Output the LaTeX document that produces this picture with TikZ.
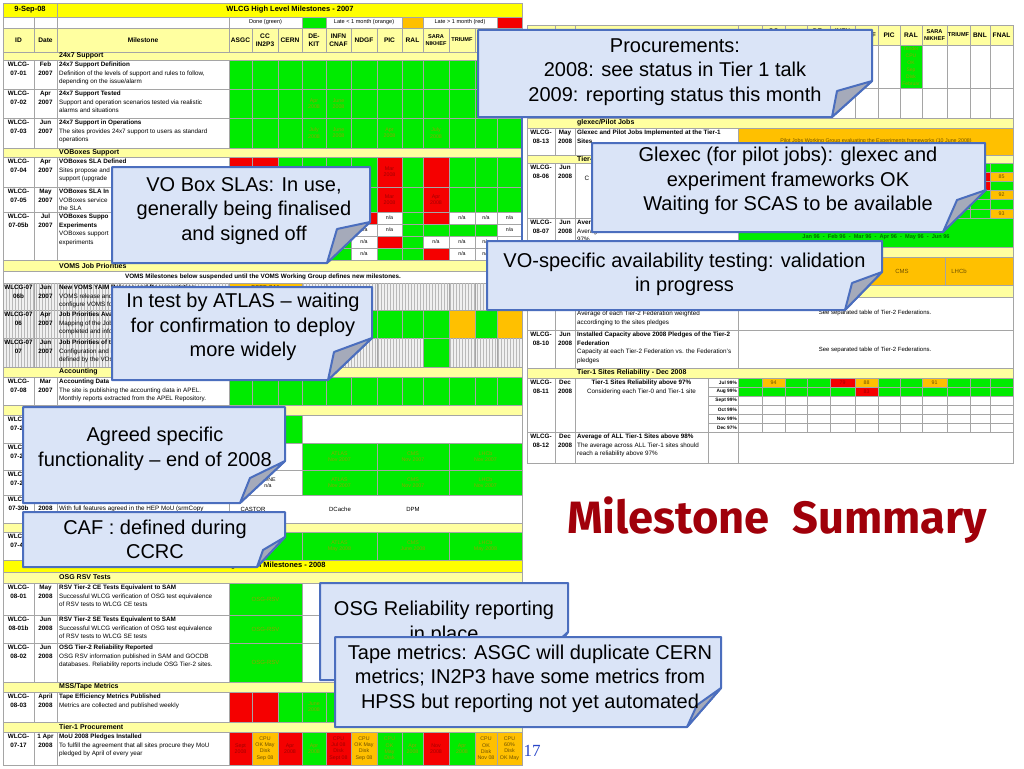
\documentclass[tikz,border=0pt]{standalone}
\usepackage{fontspec}
\usepackage{graphicx}
\setmainfont{Liberation Sans}
\newfontfamily\msfont{Fira Sans}
\newfontfamily\pgnumfont{Liberation Serif}
\usetikzlibrary{patterns}
\definecolor{cg}{RGB}{0,235,0}
\definecolor{cr}{RGB}{245,0,0}
\definecolor{co}{RGB}{255,192,0}
\definecolor{cy}{RGB}{255,255,0}
\definecolor{cpy}{RGB}{255,255,160}
\definecolor{gridc}{RGB}{165,165,165}
\definecolor{cbfill}{RGB}{218,228,247}
\definecolor{cbline}{RGB}{75,110,190}
\definecolor{cptr}{RGB}{165,170,186}
\definecolor{msred}{RGB}{160,0,10}
\definecolor{gtxt}{RGB}{140,165,0}
\definecolor{rtxt}{RGB}{160,0,0}
\definecolor{otxt}{RGB}{110,80,0}
\definecolor{dkgreen}{RGB}{0,110,0}
\definecolor{pgblue}{RGB}{40,70,200}
\newcounter{nn}
\def\LXa{{229,252,278,302,326,351,377,402,423,449,475,497,522}}
\def\RXa{{738,762,785,807,830,855,878,900,922,947,970,990,1013}}
\newcommand\tnode[4][]{\stepcounter{nn}\node[#1] (n\arabic{nn}) at (#2,#3) {#4};}
\newcommand\bx[5][cW]{\path[cellbox,#1] (#2,#3) rectangle (#4,#5);}
\newcommand\lrow[3]{\foreach \clr [count=\i from 0] in {#3}{\pgfmathsetmacro\xa{\LXa[\i]}\pgfmathtruncatemacro\jj{\i+1}\pgfmathsetmacro\xb{\LXa[\jj]}\edef\doit{\noexpand\path[cellbox,\clr] (\xa,#1) rectangle (\xb,#2);}\doit}}
\newcommand\rrow[3]{\foreach \clr [count=\i from 0] in {#3}{\pgfmathsetmacro\xa{\RXa[\i]}\pgfmathtruncatemacro\jj{\i+1}\pgfmathsetmacro\xb{\RXa[\jj]}\edef\doit{\noexpand\path[cellbox,\clr] (\xa,#1) rectangle (\xb,#2);}\doit}}
\newcommand\lcell[4][]{\pgfmathsetmacro\xa{\LXa[#2]}\pgfmathtruncatemacro\jj{#2+1}\pgfmathsetmacro\xb{\LXa[\jj]}\pgfmathsetmacro\xm{(\xa+\xb)/2}\tnode[celltx,#1]{\xm}{#3}{#4}}
\newcommand\rcell[4][]{\pgfmathsetmacro\xa{\RXa[#2]}\pgfmathtruncatemacro\jj{#2+1}\pgfmathsetmacro\xb{\RXa[\jj]}\pgfmathsetmacro\xm{(\xa+\xb)/2}\tnode[celltx,#1]{\xm}{#3}{#4}}
\newcommand\lsec[3]{\bx[cY]{3}{#1}{522}{#2}\tnode[sectx]{59}{{(#1+#2)/2}}{#3}}
\newcommand\rsec[3]{\bx[cY]{527}{#1}{1013}{#2}\tnode[sectx]{577}{{(#1+#2)/2}}{#3}}
\newcommand\lbase[6]{\bx[#3]{3}{#1}{34}{#2}\bx[#3]{34}{#1}{57}{#2}\bx[#3]{57}{#1}{229}{#2}\tnode[idtx]{18.5}{{#1+2}}{#4}\tnode[idtx]{45.5}{{#1+2}}{#5}\tnode[mstx]{59}{{#1+2}}{#6}}
\newcommand\rbase[6]{\bx[#3]{527}{#1}{555}{#2}\bx[#3]{555}{#1}{575}{#2}\bx[#3]{575}{#1}{738}{#2}\tnode[idtx]{541}{{#1+2}}{#4}\tnode[idtx]{565}{{#1+2}}{#5}\tnode[mstx]{577}{{#1+2}}{#6}}
\newcommand\callout[9]{%
 \path[fill=cbfill, draw=cbline, line width=2pt, line join=round] (#1,#2) -- (#3,#2) -- (#3,#9) -- (#5,#4) -- (#1,#4) -- cycle;
 \path[fill=cptr, draw=cbline, line width=2pt, line join=round] (#5,#4) -- (#6,#7) -- (#8,#9) -- cycle;}
\begin{document}
\begin{tikzpicture}[x=1pt,y=-1pt,
 cellbox/.style={draw=gridc, line width=0.5pt},
 cG/.style={fill=cg}, cR/.style={fill=cr}, cO/.style={fill=co}, cW/.style={fill=white},
 cY/.style={fill=cpy}, cYY/.style={fill=cy},
 cH/.style={fill=gray!12, postaction={pattern=vertical lines, pattern color=gray!55}},
 mstx/.style={anchor=north west, inner sep=0pt, align=left, font=\fontsize{6.3}{8.6}\selectfont},
 idtx/.style={anchor=north, inner sep=0pt, align=center, font=\bfseries\fontsize{6.3}{8.6}\selectfont},
 sectx/.style={anchor=west, inner sep=0pt, font=\bfseries\fontsize{7}{8}\selectfont},
 hdtx/.style={inner sep=0pt, align=center, font=\bfseries\fontsize{6.6}{7.6}\selectfont},
 celltx/.style={inner sep=0pt, align=center, font=\fontsize{5.3}{6.3}\selectfont},
 gtx/.style={text=gtxt}, rtx/.style={text=rtxt}, otx/.style={text=otxt},
 cbtx/.style={inner sep=0pt, align=center, font=\fontsize{20}{24.5}\selectfont}]
\useasboundingbox (0,0) rectangle (1024,768);
\fill[white] (0,0) rectangle (1024,768);
% ================= LEFT TABLE =================
\bx[cYY]{3}{3}{57}{17}\bx[cYY]{57}{3}{522}{17}
\tnode[hdtx,font=\bfseries\fontsize{7.5}{8}\selectfont]{30}{10}{9-Sep-08}
\tnode[hdtx,font=\bfseries\fontsize{7.5}{8}\selectfont]{290}{10}{WLCG High Level Milestones - 2007}
\bx{3}{17}{34}{28}\bx{34}{17}{57}{28}\bx{57}{17}{229}{28}
\bx{229}{17}{302}{28}\bx[cG]{302}{17}{326}{28}\bx{326}{17}{402}{28}\bx[cO]{402}{17}{423}{28}\bx{423}{17}{497}{28}\bx[cR]{497}{17}{522}{28}
\tnode[celltx,font=\fontsize{5.6}{6}\selectfont]{265.5}{22.5}{Done (green)}
\tnode[celltx,font=\fontsize{5.6}{6}\selectfont]{364}{22.5}{Late < 1 month (orange)}
\tnode[celltx,font=\fontsize{5.6}{6}\selectfont]{460}{22.5}{Late > 1 month (red)}
\bx[cY]{3}{28}{34}{52}\bx[cY]{34}{28}{57}{52}\bx[cY]{57}{28}{229}{52}
\lrow{28}{52}{cY,cY,cY,cY,cY,cY,cY,cY,cY,cY,cY,cY}
\tnode[hdtx]{18.5}{40}{ID}\tnode[hdtx]{45.5}{40}{Date}\tnode[hdtx]{143}{40}{Milestone}
\lcell[hdtx]{0}{40}{ASGC}\lcell[hdtx]{1}{40}{CC\\IN2P3}\lcell[hdtx]{2}{40}{CERN}\lcell[hdtx]{3}{40}{DE-\\KIT}
\lcell[hdtx]{4}{40}{INFN\\CNAF}\lcell[hdtx]{5}{40}{NDGF}\lcell[hdtx]{6}{40}{PIC}\lcell[hdtx]{7}{40}{RAL}
\lcell[hdtx,font=\bfseries\fontsize{5.6}{7}\selectfont]{8}{40}{SARA\\NIKHEF}\lcell[hdtx,font=\bfseries\fontsize{5.6}{7}\selectfont]{9}{40}{TRIUMF}
\lcell[hdtx]{10}{40}{BNL}\lcell[hdtx]{11}{40}{FNAL}
\lsec{52}{60}{24x7 Support}
\lbase{60}{89}{cW}{WLCG-\\07-01}{Feb\\2007}{\textbf{24x7 Support Definition}\\Definition of the levels of support and rules to follow,\\depending on the issue/alarm}
\lrow{60}{89}{cG,cG,cG,cG,cG,cG,cG,cG,cG,cG,cG,cG}
\lbase{89}{118}{cW}{WLCG-\\07-02}{Apr\\2007}{\textbf{24x7 Support Tested}\\Support and operation scenarios tested via realistic\\alarms and situations}
\lrow{89}{118}{cG,cG,cG,cG,cG,cG,cG,cG,cG,cG,cG,cG}
\lcell[gtx]{3}{103.5}{Apr\\2008}\lcell[gtx]{4}{103.5}{June\\2008}
\lbase{118}{148}{cW}{WLCG-\\07-03}{Jun\\2007}{\textbf{24x7 Support in Operations}\\The sites provides 24x7 support to users as standard\\operations}
\lrow{118}{148}{cG,cG,cG,cG,cG,cG,cG,cG,cG,cG,cG,cG}
\lcell[gtx]{3}{133}{July\\2008}\lcell[gtx]{4}{133}{June\\2008}\lcell[gtx]{6}{133}{Apr\\2008}\lcell[gtx]{8}{133}{July\\2008}
\lsec{148}{157}{VOBoxes Support}
\lbase{157}{187}{cW}{WLCG-\\07-04}{Apr\\2007}{\textbf{VOBoxes SLA Defined}\\Sites propose and\\support (upgrade}
\lrow{157}{187}{cR,cR,cG,cG,cG,cG,cR,cG,cR,cG,cG,cG}
\lcell[rtx]{6}{172}{Mar\\2008}
\lbase{187}{212}{cW}{WLCG-\\07-05}{May\\2007}{\textbf{VOBoxes SLA In}\\VOBoxes service\\the SLA}
\lrow{187}{212}{cG,cG,cG,cG,cG,cG,cR,cG,cR,cG,cG,cG}
\lcell[rtx]{6}{199.5}{Mar\\2008}\lcell[rtx]{8}{199.5}{Apr\\2008}
\lbase{212}{260}{cW}{WLCG-\\07-05b}{Jul\\2007}{\textbf{VOBoxes Suppo}\\\textbf{Experiments}\\VOBoxes support\\experiments}
\lrow{212}{224}{cG,cG,cG,cG,cG,cR,cW,cG,cR,cW,cW,cW}
\lrow{224}{236}{cG,cG,cG,cG,cG,cW,cW,cG,cG,cG,cG,cW}
\lrow{236}{248}{cG,cG,cG,cG,cG,cW,cR,cG,cW,cW,cW,cW}
\lrow{248}{260}{cG,cG,cG,cG,cG,cW,cG,cG,cR,cW,cW,cW}
\lcell{6}{218}{n/a}\lcell{9}{218}{n/a}\lcell{10}{218}{n/a}\lcell{11}{218}{n/a}
\lcell{5}{230}{n/a}\lcell{6}{230}{n/a}\lcell{11}{230}{n/a}
\lcell{5}{242}{n/a}\lcell{8}{242}{n/a}\lcell{9}{242}{n/a}\lcell{10}{242}{n/a}
\lcell{5}{254}{n/a}\lcell{9}{254}{n/a}\lcell{10}{254}{n/a}
\lsec{260}{271}{VOMS Job Priorities}
\bx{3}{271}{522}{283}
\tnode[hdtx,font=\bfseries\fontsize{6.3}{7}\selectfont]{263}{277}{VOMS Milestones below suspended until the VOMS Working Group defines new milestones.}
\lbase{283}{310}{cH}{WLCG-07\\06b}{Jun\\2007}{\textbf{New VOMS YAIM Release and Documentation}\\VOMS release and\\configure VOMS fo}
\lrow{283}{310}{cH,cH,cH,cH,cH,cH,cH,cH,cH,cH,cH,cH}
\bx[cO]{229}{283}{302}{310}
\tnode[celltx,otx,font=\bfseries\fontsize{5.6}{6}\selectfont]{265.5}{288}{EGEE-SA1}
\lbase{310}{338}{cH}{WLCG-07\\06}{Apr\\2007}{\textbf{Job Priorities Ava}\\Mapping of the Job\\completed and info}
\lrow{310}{338}{cG,cG,cG,cG,cG,cG,cG,cG,cG,cO,cG,cO}
\lbase{338}{367}{cH}{WLCG-07\\07}{Jun\\2007}{\textbf{Job Priorities of th}\\Configuration and n\\defined by the VOs}
\lrow{338}{367}{cH,cH,cH,cH,cH,cH,cH,cH,cG,cH,cH,cH}
\lsec{367}{377}{Accounting}
\lbase{377}{405}{cW}{WLCG-\\07-08}{Mar\\2007}{\textbf{Accounting Data}\\The site is publishing the accounting data in APEL.\\Monthly reports extracted from the APEL Repository.}
\lrow{377}{405}{cG,cG,cG,cG,cG,cG,cG,cG,cG,cG,cG,cG}
\bx[cY]{3}{405}{522}{415}
\lbase{415}{443}{cW}{WLCG-\\07-20}{}{}
\lrow{415}{443}{cG,cG,cG,cW,cW,cW,cW,cW,cW,cW,cW,cW}
\bx{302}{415}{522}{443}
\lbase{443}{470}{cW}{WLCG-\\07-21}{}{}
\bx{229}{443}{302}{470}\bx[cG]{302}{443}{377}{470}\bx[cG]{377}{443}{449}{470}\bx[cG]{449}{443}{522}{470}
\tnode[celltx,gtx]{339.5}{456.5}{ATLAS\\Nov 2007}\tnode[celltx,gtx]{413}{456.5}{CMS\\Nov 2007}\tnode[celltx,gtx]{485.5}{456.5}{LHCb\\Nov 2007}
\lbase{470}{495}{cW}{WLCG-\\07-22}{}{}
\bx{229}{470}{302}{495}\bx[cG]{302}{470}{377}{495}\bx[cG]{377}{470}{449}{495}\bx[cG]{449}{470}{522}{495}
\tnode[celltx]{268}{482.5}{NONE\\n/a}
\tnode[celltx,gtx]{339.5}{482.5}{ATLAS\\Nov 2007}\tnode[celltx,gtx]{413}{482.5}{CMS\\Nov 2007}\tnode[celltx,gtx]{485.5}{482.5}{LHCb\\Nov 2007}
\lbase{495}{523}{cW}{WLCG-\\07-30b}{\phantom{J}\\2008}{\phantom{J}\\With full features agreed in the HEP MoU (srmCopy}
\bx{229}{495}{522}{523}
\tnode[celltx,font=\fontsize{6}{7}\selectfont]{253}{509}{CASTOR}\tnode[celltx,font=\fontsize{6}{7}\selectfont]{340}{509}{DCache}\tnode[celltx,font=\fontsize{6}{7}\selectfont]{413}{509}{DPM}
\bx[cY]{3}{523}{522}{532}
\lbase{532}{560}{cW}{WLCG-\\07-40}{}{}
\bx[cG]{229}{532}{302}{560}\bx[cG]{302}{532}{377}{560}\bx[cG]{377}{532}{449}{560}\bx[cG]{449}{532}{522}{560}
\tnode[celltx,gtx]{339.5}{546}{ATLAS\\May 2008}\tnode[celltx,gtx]{413}{546}{CMS\\June 2008}\tnode[celltx,gtx]{485.5}{546}{LHCb\\May 2008}
\bx[cYY]{3}{560}{522}{572}
\tnode[hdtx,font=\bfseries\fontsize{7.5}{8}\selectfont]{262}{566}{WLCG High Level Milestones - 2008}
\lsec{572}{583}{OSG RSV Tests}
\lbase{583}{615}{cW}{WLCG-\\08-01}{May\\2008}{\textbf{RSV Tier-2 CE Tests Equivalent to SAM}\\Successful WLCG verification of OSG test equivalence\\of RSV tests to WLCG CE tests}
\bx[cG]{229}{583}{302}{615}\bx{302}{583}{522}{615}\tnode[celltx,gtx,font=\fontsize{6}{7}\selectfont]{265.5}{599}{OSG-RSV}
\lbase{615}{643}{cW}{WLCG-\\08-01b}{Jun\\2008}{\textbf{RSV Tier-2 SE Tests Equivalent to SAM}\\Successful WLCG verification of OSG test equivalence\\of RSV tests to WLCG SE tests}
\bx[cG]{229}{615}{302}{643}\bx{302}{615}{522}{643}\tnode[celltx,gtx,font=\fontsize{6}{7}\selectfont]{265.5}{629}{OSG-RSV}
\lbase{643}{682}{cW}{WLCG-\\08-02}{Jun\\2008}{\textbf{OSG Tier-2 Reliability Reported}\\OSG RSV information published in  SAM and GOCDB\\databases. Reliability reports include OSG Tier-2 sites.}
\bx[cG]{229}{643}{302}{682}\bx{302}{643}{522}{682}\tnode[celltx,gtx,font=\fontsize{6}{7}\selectfont]{265.5}{662.5}{OSG-RSV}
\lsec{682}{692}{MSS/Tape Metrics}
\lbase{692}{722}{cW}{WLCG-\\08-03}{April\\2008}{\textbf{Tape Efficiency Metrics Published}\\Metrics are collected and published weekly}
\lrow{692}{722}{cR,cR,cG,cG,cG,cG,cG,cG,cG,cG,cG,cG}
\lcell[gtx]{3}{707}{June\\2008}
\lsec{722}{732}{Tier-1 Procurement}
\lbase{732}{765}{cW}{WLCG-\\07-17}{1 Apr\\2008}{\textbf{MoU 2008 Pledges Installed}\\To fulfill the agreement that all sites procure they  MoU\\pledged by April of every year}
\lrow{732}{765}{cR,cO,cR,cG,cR,cO,cG,cG,cR,cG,cO,cO}
\lcell[rtx]{0}{748.5}{Sept\\2008}\lcell[otx]{1}{748.5}{CPU\\OK May\\Disk\\Sep 08}\lcell[rtx]{2}{748.5}{Apr\\2008}
\lcell[gtx]{3}{748.5}{Apr\\2008}\lcell[rtx]{4}{748.5}{CPU\\Jul 08\\Disk\\Sept 08}\lcell[otx]{5}{748.5}{CPU\\OK May\\Disk\\Sep 08}
\lcell[gtx]{6}{748.5}{CPU\\OK\\May\\Disk}\lcell[gtx]{7}{748.5}{Apr\\2008}\lcell[rtx]{8}{748.5}{Nov\\2008}
\lcell[gtx]{9}{748.5}{Apr\\2008}\lcell[otx]{10}{748.5}{CPU\\OK\\Disk\\Nov 08}\lcell[otx]{11}{748.5}{CPU\\60\%\\Disk\\OK May}
\draw[gridc, line width=0.8pt] (3,3) rectangle (522,765);
% ================= RIGHT TABLE =================
\rbase{25}{45}{cY}{}{}{}
\rrow{25}{45}{cY,cY,cY,cY,cY,cY,cY,cY,cY,cY,cY,cY}
\rcell[hdtx]{0}{35}{ASGC}\rcell[hdtx]{1}{35}{CC\\IN2P3}\rcell[hdtx]{2}{35}{CERN}\rcell[hdtx]{3}{35}{DE-\\KIT}
\rcell[hdtx]{4}{35}{INFN\\CNAF}\rcell[hdtx]{5}{35}{NDGF}\rcell[hdtx]{6}{35}{PIC}\rcell[hdtx]{7}{35}{RAL}
\rcell[hdtx,font=\bfseries\fontsize{5.6}{7}\selectfont]{8}{35}{SARA\\NIKHEF}\rcell[hdtx,font=\bfseries\fontsize{5.6}{7}\selectfont]{9}{35}{TRIUMF}
\rcell[hdtx]{10}{35}{BNL}\rcell[hdtx]{11}{35}{FNAL}
\rbase{45}{88}{cW}{}{}{}
\rrow{45}{88}{cW,cW,cW,cW,cW,cW,cW,cG,cW,cW,cW,cW}
\begin{scope}
\clip (900,45) rectangle (922,88);
\tnode[celltx,gtx,anchor=north,font=\fontsize{5}{7}\selectfont]{911}{46.5}{Tender\\CPU\\OK\\Sep\\Disk\\Februar}
\end{scope}
\rbase{88}{118}{cW}{}{}{}
\rrow{88}{118}{cW,cW,cW,cW,cW,cW,cW,cW,cW,cW,cW,cW}
\rsec{118}{128}{glexec/Pilot Jobs}
\rbase{128}{155}{cW}{WLCG-\\08-13}{May\\2008}{\textbf{Glexec and Pilot Jobs Implemented at the Tier-1}\\\textbf{Sites}}
\bx[cO]{738}{128}{1013}{155}
\tnode[celltx,otx]{876}{141.5}{Pilot Jobs Working Group evaluating the Experiments frameworks (10 June 2008)}
\rsec{155}{163}{Tier-}
\rbase{163}{218}{cW}{WLCG-\\08-06}{Jun\\2008}{}
\tnode[celltx,font=\fontsize{6.3}{7}\selectfont]{587}{178}{C}
\rrow{163}{172}{cG,cG,cG,cG,cG,cG,cG,cG,cG,cG,cG,cG}
\rrow{172}{181}{cG,cG,cG,cG,cG,cG,cG,cG,cG,cG,cR,cO}
\rrow{181}{190}{cG,cG,cG,cG,cG,cG,cG,cG,cG,cG,cR,cG}
\rrow{190}{199.5}{cG,cG,cG,cG,cG,cG,cG,cG,cG,cG,cG,cO}
\rrow{199.5}{209}{cG,cG,cG,cG,cG,cG,cG,cG,cG,cG,cG,cG}
\rrow{209}{218}{cG,cG,cG,cG,cG,cG,cG,cG,cG,cG,cG,cO}
\rcell[otx]{11}{176.5}{85}\rcell[otx]{11}{194.75}{92}\rcell[otx]{11}{213.5}{93}
\rbase{218}{247}{cW}{WLCG-\\08-07}{Jun\\2008}{\textbf{Average}\\Average\\97\%}
\bx[cG]{738}{218}{1013}{247}
\tnode[celltx,text=dkgreen,font=\bfseries\fontsize{5.6}{6}\selectfont]{876}{237}{Jan 96 \ - \ Feb 96 \ - \ Mar 96 \ - \ Apr 96 \ - \ May 96 \ - \ Jun 96}
\rsec{247}{257}{}
\rbase{257}{285}{cW}{}{}{}
\bx[cO]{738}{257}{860}{285}\bx[cO]{860}{257}{945}{285}\bx[cO]{945}{257}{1013}{285}
\tnode[celltx,otx,font=\fontsize{6}{7}\selectfont]{902}{271}{CMS}\tnode[celltx,otx,font=\fontsize{6}{7}\selectfont]{959}{271}{LHCb}
\rsec{285}{297}{}
\rbase{297}{330}{cW}{}{}{}
\tnode[mstx]{577}{311}{Average of each Tier-2 Federation weighted\\accordinging to the sites pledges}
\bx{738}{297}{1013}{330}
\tnode[celltx,font=\fontsize{6}{7}\selectfont]{875}{313}{See separated table of Tier-2 Federations.}
\rbase{330}{368}{cW}{WLCG-\\08-10}{Jun\\2008}{\textbf{Installed Capacity above 2008 Pledges of the Tier-2}\\\textbf{Federation}\\Capacity at each Tier-2 Federation  vs. the Federation's\\pledges}
\bx{738}{330}{1013}{368}
\tnode[celltx,font=\fontsize{6}{7}\selectfont]{875}{350}{See separated table of Tier-2 Federations.}
\rsec{368}{378}{Tier-1 Sites Reliability - Dec 2008}
\bx{527}{378}{555}{432}\bx{555}{378}{575}{432}\bx{575}{378}{708}{432}
\tnode[idtx]{541}{380}{WLCG-\\08-11}\tnode[idtx]{565}{380}{Dec\\2008}
\tnode[mstx,anchor=north,align=center]{641.5}{380}{\textbf{Tier-1 Sites Reliability above 97\%}\\Considering each Tier-0 and Tier-1 site}
\foreach \yy/\lab in {378/Jul 99\%,387/Aug 99\%,396/Sept 99\%,405/Oct 99\%,414/Nov 99\%,423/Dec 97\%}{
 \path[cellbox,fill=white] (708,\yy) rectangle (738,\yy+9);
 \stepcounter{nn}\node[anchor=east,inner sep=0pt,font=\bfseries\fontsize{4.8}{5}\selectfont] (n\arabic{nn}) at (737,\yy+4.5) {\lab};}
\rrow{378}{387}{cG,cO,cG,cG,cR,cO,cG,cG,cO,cG,cG,cG}
\rcell[otx]{1}{382.5}{94}\rcell[rtx]{4}{382.5}{79}\rcell[otx]{5}{382.5}{88}\rcell[otx]{8}{382.5}{91}
\rrow{387}{396}{cG,cG,cG,cG,cG,cR,cG,cG,cG,cG,cG,cG}
\rcell[rtx]{5}{391.5}{83}
\rrow{396}{405}{cW,cW,cW,cW,cW,cW,cW,cW,cW,cW,cW,cW}
\rrow{405}{414}{cW,cW,cW,cW,cW,cW,cW,cW,cW,cW,cW,cW}
\rrow{414}{423}{cW,cW,cW,cW,cW,cW,cW,cW,cW,cW,cW,cW}
\rrow{423}{432}{cW,cW,cW,cW,cW,cW,cW,cW,cW,cW,cW,cW}
\bx{527}{432}{555}{463}\bx{555}{432}{575}{463}\bx{575}{432}{708}{463}\bx{708}{432}{738}{463}\bx{738}{432}{1013}{463}
\tnode[idtx]{541}{434}{WLCG-\\08-12}\tnode[idtx]{565}{434}{Dec\\2008}
\tnode[mstx]{577}{434}{\textbf{Average of ALL Tier-1 Sites above 98\%}\\The average across ALL Tier-1 sites should\\reach a reliability above 97\%}
\draw[gridc, line width=0.8pt] (527,25) rectangle (1013,463);
\draw[cbline, line width=1.5pt] (522,117) -- (522,241);
% ================= CALLOUTS =================
\callout{478}{30}{872}{117}{832}{837}{91}{872}{81}
\tnode[cbtx]{675}{72}{Procurements:\\2008: see status in Tier 1 talk\\2009: reporting status this month}
\callout{592}{143}{985}{232}{943}{957}{200}{986}{190}
\tnode[cbtx]{788}{181}{Glexec (for pilot jobs): glexec and\\experiment frameworks OK\\Waiting for SCAS to be available}
\callout{487}{241}{882}{310}{845}{852}{283}{882}{272}
\tnode[cbtx]{684.5}{274.5}{VO-specific availability testing: validation\\in progress}
\callout{112}{167}{370}{263}{327}{337}{229}{370}{222}
\tnode[cbtx]{244}{211}{VO Box SLAs: In use,\\generally being finalised\\and signed off}
\callout{112}{287}{372}{380}{328}{334}{352}{372}{338}
\tnode[cbtx]{243}{327}{In test by ATLAS – waiting\\for confirmation to deploy\\more widely}
\callout{23}{407}{285}{503}{240}{250}{478}{285}{461}
\tnode[cbtx]{155}{449}{Agreed specific\\functionality – end of 2008}
\callout{23}{512}{285}{567}{257}{263}{550}{285}{537}
\tnode[cbtx]{155}{539.5}{CAF : defined during\\CCRC}
\callout{320}{583}{568}{680}{530}{537}{660}{568}{632}
\tnode[cbtx]{444}{623}{OSG Reliability reporting\\in place}
\callout{335}{637}{721}{727}{687}{697}{705}{721}{688}
\tnode[cbtx]{530}{678.5}{Tape metrics: ASGC will duplicate CERN\\metrics; IN2P3 have some metrics from\\HPSS but reporting not yet automated}
% ================= TITLE & PAGE =================
\tnode[inner sep=0pt, anchor=base west, text=msred]{567}{533}{\resizebox{420pt}{!}{\msfont\bfseries Milestone\hspace{0.5em}Summary}}
\tnode[inner sep=0pt, text=pgblue, font=\pgnumfont\fontsize{17}{18}\selectfont]{532}{751}{17}
\end{tikzpicture}
\end{document}
